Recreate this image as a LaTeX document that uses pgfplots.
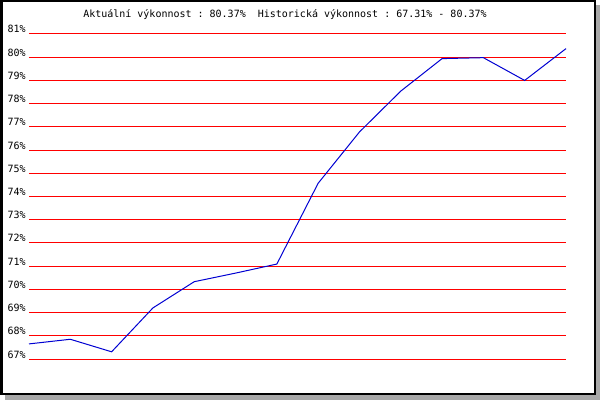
\documentclass[border=0pt]{standalone}
\usepackage{fontspec}
\setmainfont{DejaVu Sans Mono}
\setmonofont{DejaVu Sans Mono}
\usepackage{pgfplots}
\pgfplotsset{compat=1.18}
\definecolor{shadowgray}{RGB}{168,168,168}
\definecolor{lineblue}{RGB}{0,0,210}
\begin{document}
\begin{tikzpicture}[x=0.75pt,y=0.75pt]
\useasboundingbox (0,0) rectangle (600,400);
\fill[shadowgray] (5,0) rectangle (600,395);
\fill[black] (0,5) rectangle (596,400);
\fill[white] (3,7) rectangle (594,398);
\node[anchor=base west, inner sep=0pt, font=\fontsize{7.5}{9}\selectfont\ttfamily] at (83,382.7)
  {Aktuální výkonnost : 80.37\%\ \ Historická výkonnost : 67.31\% - 80.37\%};
\begin{axis}[
  at={(21.75pt,30.75pt)}, anchor=south west,
  scale only axis, width=402.75pt, height=243.75pt,
  xmin=0, xmax=13, ymin=67, ymax=81,
  axis line style={draw=none},
  tick style={draw=none},
  xtick=\empty,
  ytick={67,68,69,70,71,72,73,74,75,76,77,78,79,80,81},
  yticklabels={67\%,68\%,69\%,70\%,71\%,72\%,73\%,74\%,75\%,76\%,77\%,78\%,79\%,80\%,81\%},
  yticklabel style={anchor=base east, inner sep=0pt, xshift=-2.25pt, yshift=0.75pt, font=\fontsize{7.5}{9}\selectfont\ttfamily},
  ymajorgrids,
  grid style={red, line width=0.75pt},
  clip=false,
]
\addplot[lineblue, line width=0.75pt, mark=none] coordinates {
  (0,67.65) (1,67.85) (2,67.31) (3,69.20) (4,70.33) (5,70.70) (6,71.09)
  (7,74.57) (8,76.78) (9,78.54) (10,79.94) (11,79.98) (12,79.00) (13,80.37)
};
\end{axis}
\end{tikzpicture}
\end{document}
